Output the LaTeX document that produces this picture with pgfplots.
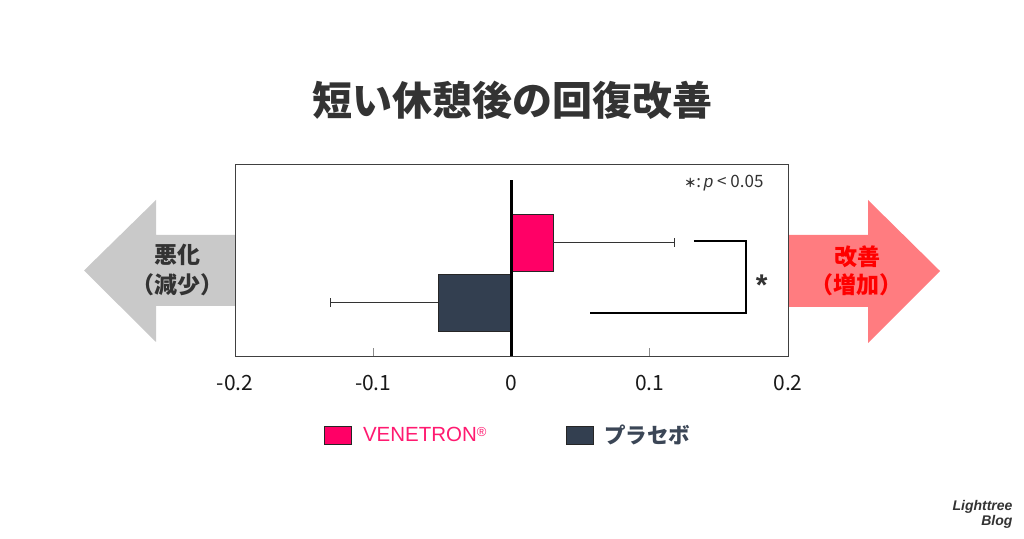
\documentclass[border=0pt]{standalone}
\usepackage{fontspec}
\usepackage{pgfplots}
\pgfplotsset{compat=1.18}
\setmainfont{Noto Sans CJK JP}
\newfontfamily\lib{Liberation Sans}

\definecolor{vpink}{HTML}{FF0066}
\definecolor{vpinktxt}{HTML}{FF1A70}
\definecolor{plc}{HTML}{333F50}
\definecolor{plctxt}{HTML}{3B4656}
\definecolor{arrgray}{HTML}{C9C9C9}
\definecolor{arrred}{HTML}{FF7C80}
\definecolor{txt}{HTML}{333333}

\pgfplotsset{
  sq legend/.style={legend image code/.code={\draw[##1, line width=0.8pt] (0pt,-9pt) rectangle (27pt,9pt);}}
}

\begin{document}
\begin{tikzpicture}
\path[use as bounding box] (0,0) rectangle (1024pt,538pt);

% direction arrows behind the chart
\fill[arrgray] (235pt,303pt) -- (156pt,303pt) -- (156pt,338pt) -- (84pt,267.5pt)
  -- (156pt,196pt) -- (156pt,232pt) -- (235pt,232pt) -- cycle;
\fill[arrred] (788pt,303pt) -- (868pt,303pt) -- (868pt,338pt) -- (940pt,267pt)
  -- (868pt,195pt) -- (868pt,231pt) -- (788pt,231pt) -- cycle;
\node[text=txt, font=\bfseries\fontsize{23}{26}\selectfont] at (177pt,283pt) {悪化};
\node[text=txt, font=\bfseries\fontsize{23}{26}\selectfont] at (177pt,253pt) {（減少）};
\node[text=red, font=\bfseries\fontsize{23}{26}\selectfont] at (857pt,281pt) {改善};
\node[text=red, font=\bfseries\fontsize{23}{26}\selectfont] at (856pt,253pt) {（増加）};

% title
\node[text=txt, font=\bfseries\fontsize{40}{44}\selectfont] at (512pt,438pt) {短い休憩後の回復改善};

% watermark
\node[anchor=east, align=right, text=txt, font=\lib\bfseries\itshape\fontsize{14}{15}\selectfont]
  at (1016pt,24pt) {Lighttree\\Blog};

\begin{axis}[
  at={(235pt,182pt)}, anchor=south west,
  scale only axis, width=553pt, height=192pt,
  xmin=-0.2, xmax=0.2, ymin=0, ymax=3.2,
  xtick={-0.2,-0.1,0,0.1,0.2},
  xticklabels={-0.2,-0.1,0,0.1,0.2},
  ytick=\empty,
  xtick pos=bottom, tick align=inside,
  major tick length=8pt,
  tick style={black!45, line width=1pt},
  axis line style={black!75, line width=1pt},
  xticklabel style={anchor=center, yshift=-27pt, text=black!90,
    font=\fontsize{21}{21}\selectfont},
  clip=false,
  legend columns=2,
  legend style={draw=none, fill=none, at={(0.161,-0.411)}, anchor=west,
    inner xsep=0pt,
    /tikz/every odd column/.append style={column sep=9pt},
    /tikz/every even column/.append style={column sep=77pt}},
]
% VENETRON
\addplot[xbar, sq legend, bar width=57pt, bar shift=0pt, fill=vpink, draw=black!85, line width=0.8pt,
  error bars/.cd, x dir=plus, x explicit, error mark=|,
  error bar style={black!80, line width=1.2pt},
  error mark options={black!80, mark size=4.5pt, line width=1.2pt}]
  coordinates {(0.030,1.89) +- (0.088,0)};
\addlegendentry{\textcolor{vpinktxt}{\lib\fontsize{20.5}{24}\selectfont VENETRON{\fontsize{13}{13}\selectfont\raisebox{5pt}{®}}}}

% placebo
\addplot[xbar, sq legend, bar width=57pt, bar shift=0pt, fill=plc, draw=black!85, line width=0.8pt,
  error bars/.cd, x dir=minus, x explicit, error mark=|,
  error bar style={black!80, line width=1.2pt},
  error mark options={black!80, mark size=4.5pt, line width=1.2pt}]
  coordinates {(-0.053,0.89) +- (0.078,0)};
\addlegendentry{\textcolor{plctxt}{\bfseries\fontsize{21.5}{24}\selectfont プラセボ}}

% zero line
\addplot[black, line width=3pt, forget plot] coordinates {(0,0) (0,2.93)};

% significance bracket
\addplot[black, line width=1.3pt, forget plot]
  coordinates {(0.132,1.917) (0.1696,1.917) (0.1696,0.717) (0.0568,0.717)};
\node[text=txt, font=\lib\bfseries\fontsize{30}{30}\selectfont, yshift=-6pt] at (axis cs:0.181,1.28) {*};

\node[anchor=east, text=txt, font=\fontsize{17}{17}\selectfont]
  at (axis cs:0.1848,2.89) {{\bfseries\fontsize{12}{12}\selectfont ＊}:\,{\lib\itshape p} < 0.05};
\end{axis}
\end{tikzpicture}
\end{document}
